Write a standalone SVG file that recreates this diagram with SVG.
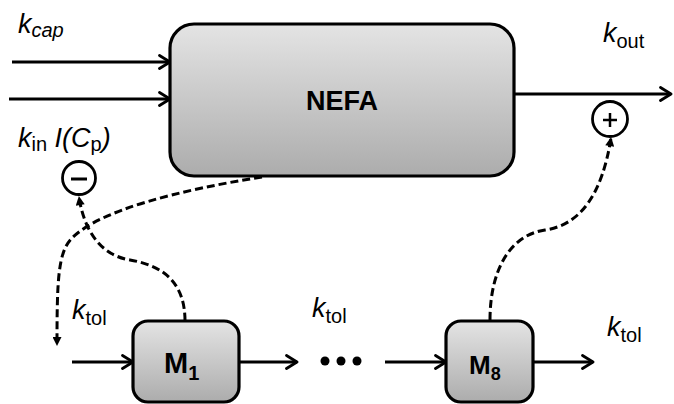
<svg xmlns="http://www.w3.org/2000/svg" width="674" height="404" viewBox="0 0 674 404">
<defs>
<linearGradient id="g" x1="0" y1="0" x2="0" y2="1">
<stop offset="0" stop-color="#e4e4e4"/>
<stop offset="1" stop-color="#acacac"/>
</linearGradient>
<marker id="chev" viewBox="0 0 14 16" markerWidth="14" markerHeight="16" refX="12.5" refY="8" orient="auto" markerUnits="userSpaceOnUse">
<path d="M2,1.5 L12.5,8 L2,14.5" fill="none" stroke="#000" stroke-width="2.8" stroke-linejoin="round" stroke-linecap="round"/>
</marker>
<marker id="tri" viewBox="0 0 10 10" markerWidth="10" markerHeight="9" refX="9" refY="5" orient="auto" markerUnits="userSpaceOnUse">
<path d="M0,0 L10,5 L0,10 z" fill="#000"/>
</marker>
</defs>
<style>
.box{fill:url(#g);stroke:#000;stroke-width:3.2}
.ln{fill:none;stroke:#000;stroke-width:3;marker-end:url(#chev)}
.dl{fill:none;stroke:#000;stroke-width:3;stroke-dasharray:8 4;marker-end:url(#tri)}
.circ{fill:#fff;stroke:#000;stroke-width:2.8}
.lbl{font-family:"Liberation Sans",Arial,sans-serif;font-size:27px;font-style:italic}
.sub{font-size:20px}
.up{font-style:normal}
.bold{font-family:"Liberation Sans",Arial,sans-serif;font-weight:bold}
</style>

<g id="connectors">
<line class="ln" x1="12" y1="62" x2="170" y2="62"/>
<line class="ln" x1="9" y1="99" x2="170" y2="99"/>
<line class="ln" x1="514" y1="94" x2="671" y2="94"/>
<line class="ln" x1="72" y1="362" x2="133" y2="362"/>
<line class="ln" x1="239" y1="362" x2="297" y2="362"/>
<line class="ln" x1="385" y1="362" x2="446" y2="362"/>
<line class="ln" x1="533" y1="362" x2="593" y2="362"/>
<path class="dl" d="M262,177 C180,190 100,210 72,238 C58,252 57,280 57,345"/>
<path class="dl" d="M185,321 C185,280 160,265 130,260 C100,255 84,230 79,197"/>
<path class="dl" d="M490,320 C490,270 510,235 545,230 C580,225 602,195 611,138"/>
</g>

<g id="nefa">
<rect class="box" x="170" y="24" width="344" height="152" rx="24"/>
<text class="bold" x="342" y="110" font-size="27" text-anchor="middle">NEFA</text>
</g>

<g id="m1">
<rect class="box" x="133" y="321" width="106" height="81" rx="15"/>
<text class="bold" x="164" y="373" font-size="29">M<tspan font-size="20" dy="7">1</tspan></text>
</g>

<g id="m8">
<rect class="box" x="446" y="321" width="87" height="81" rx="15"/>
<text class="bold" x="469" y="374" font-size="26">M<tspan font-size="18" dy="6">8</tspan></text>
</g>

<g id="minus">
<circle class="circ" cx="79" cy="178" r="16.5"/>
<line x1="71" y1="179" x2="87" y2="179" stroke="#000" stroke-width="3"/>
</g>

<g id="plus">
<circle class="circ" cx="610" cy="119" r="17.5"/>
<line x1="603" y1="120" x2="617" y2="120" stroke="#000" stroke-width="2.5"/>
<line x1="610" y1="113" x2="610" y2="127" stroke="#000" stroke-width="2.5"/>
</g>

<g id="dots">
<circle cx="325" cy="361" r="4.5"/>
<circle cx="341" cy="361" r="4.5"/>
<circle cx="357" cy="361" r="4.5"/>
</g>

<g id="labels">
<text class="lbl" x="18" y="33">k<tspan class="sub" dy="4">cap</tspan></text>
<text class="lbl" x="18" y="147">k<tspan class="sub up" dy="4">in</tspan><tspan dy="-4"> I(C</tspan><tspan class="sub up" dy="4">p</tspan><tspan dy="-4">)</tspan></text>
<text class="lbl" x="603" y="42">k<tspan class="sub up" dy="6">out</tspan></text>
<text class="lbl" x="72" y="319">k<tspan class="sub up" dy="6">tol</tspan></text>
<text class="lbl" x="312" y="317">k<tspan class="sub up" dy="6">tol</tspan></text>
<text class="lbl" x="607" y="336">k<tspan class="sub up" dy="6">tol</tspan></text>
</g>
</svg>
